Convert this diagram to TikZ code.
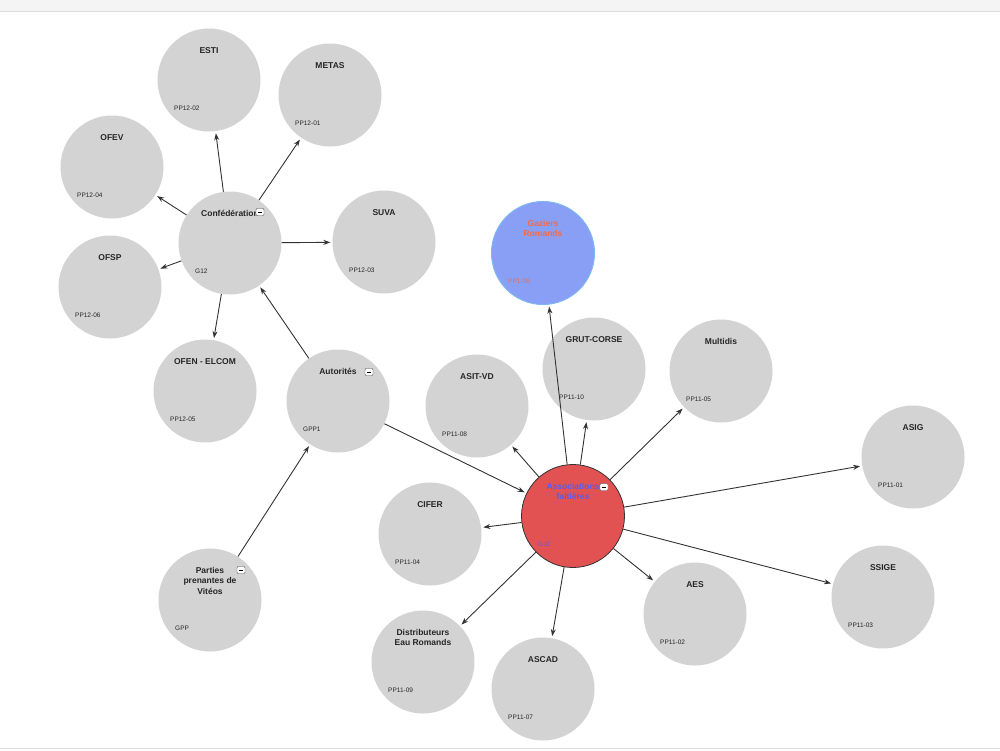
\documentclass[tikz,border=0pt]{standalone}
\usepackage{fontspec}
\setmainfont{Liberation Sans}
\usetikzlibrary{arrows.meta,calc}
\definecolor{bub}{HTML}{D3D3D3}
\definecolor{assocfill}{HTML}{E35252}
\definecolor{assoctext}{HTML}{5A5AF0}
\definecolor{gazfill}{HTML}{889FF5}
\definecolor{gazline}{HTML}{7FB6F2}
\definecolor{gaztext}{HTML}{F26B4A}
\definecolor{bartop}{HTML}{F4F4F4}
\definecolor{barline}{HTML}{DDDDDD}
\newcommand\mkbub[6][]{%
  \node[bubble,#1] (#2) at (#3) {};
  \node[ttl,text=#6] (#2-t) at ($(#2)+(0,-33)$) {#4};
  \node[codetxt,text=#6] (#2-c) at ($(#2)+(-35,28)$) {#5};
}
\begin{document}
\begin{tikzpicture}[x=1pt,y=-1pt,
  bubble/.style={circle,fill=bub,draw=none,minimum size=103pt,inner sep=0pt},
  ttl/.style={font=\fontsize{8.5}{10.5}\selectfont\bfseries,align=center,anchor=north,inner sep=0pt},
  codetxt/.style={font=\fontsize{6.5}{7}\selectfont,anchor=west,inner sep=0pt},
  btn/.style={draw=black!70,fill=white,rounded corners=1pt,minimum width=8pt,minimum height=7pt,inner sep=0pt},
  link/.style={draw=black!80,line width=0.9pt,-{Stealth[length=7pt,width=5pt]},shorten >=2pt}]
\useasboundingbox (0,0) rectangle (1000,750);
\fill[bartop] (0,0) rectangle (1000,11);
\draw[barline] (0,11) -- (1000,11);
\draw[barline] (0,748) -- (1000,748);

\mkbub{esti}{209,80}{ESTI}{PP12-02}{black!85}
\mkbub{metas}{330,95}{METAS}{PP12-01}{black!85}
\mkbub{ofev}{112,167}{OFEV}{PP12-04}{black!85}
\mkbub{conf}{230,243}{Confédération}{G12}{black!85}
\mkbub{suva}{384,242}{SUVA}{PP12-03}{black!85}
\mkbub{ofsp}{110,287}{OFSP}{PP12-06}{black!85}
\mkbub{ofen}{205,391}{OFEN - ELCOM}{PP12-05}{black!85}
\mkbub{aut}{338,401}{Autorités}{GPP1}{black!85}
\mkbub[fill=gazfill,draw=gazline,line width=1pt]{gaz}{543,253}{Gaziers\\Romands}{PP1-06}{gaztext}
\mkbub{grut}{594,369}{GRUT-CORSE}{PP11-10}{black!85}
\mkbub{multi}{721,371}{Multidis}{PP11-05}{black!85}
\mkbub{asit}{477,406}{ASIT-VD}{PP11-08}{black!85}
\mkbub{asig}{913,457}{ASIG}{PP11-01}{black!85}
\mkbub[fill=assocfill,draw=black!80,line width=0.8pt]{assoc}{573,516}{Associations\\faitières}{G11}{assoctext}
\mkbub{cifer}{430,534}{CIFER}{PP11-04}{black!85}
\mkbub{gpp}{210,600}{Parties\\prenantes de\\Vitéos}{GPP}{black!85}
\mkbub{aes}{695,614}{AES}{PP11-02}{black!85}
\mkbub{ssige}{883,597}{SSIGE}{PP11-03}{black!85}
\mkbub{distrib}{423,662}{Distributeurs\\Eau Romands}{PP11-09}{black!85}
\mkbub{ascad}{543,689}{ASCAD}{PP11-07}{black!85}

\node[btn] (conf-b) at ($(conf)+(30,-31)$) {\rule{4pt}{0.8pt}};
\node[btn] (aut-b) at ($(aut)+(31,-29)$) {\rule{4pt}{0.8pt}};
\node[btn] (assoc-b) at ($(assoc)+(31,-29)$) {\rule{4pt}{0.8pt}};
\node[btn] (gpp-b) at ($(gpp)+(31,-30)$) {\rule{4pt}{0.8pt}};

\foreach \t in {esti,metas,ofev,suva,ofsp,ofen}{\draw[link] (conf) -- (\t);}
\draw[link] (aut) -- (conf);
\draw[link] (gpp) -- (aut);
\draw[link] (aut) -- (assoc);
\foreach \t in {gaz,grut,multi,asit,asig,cifer,aes,ssige,distrib,ascad}{\draw[link] (assoc) -- (\t);}
\end{tikzpicture}
\end{document}
